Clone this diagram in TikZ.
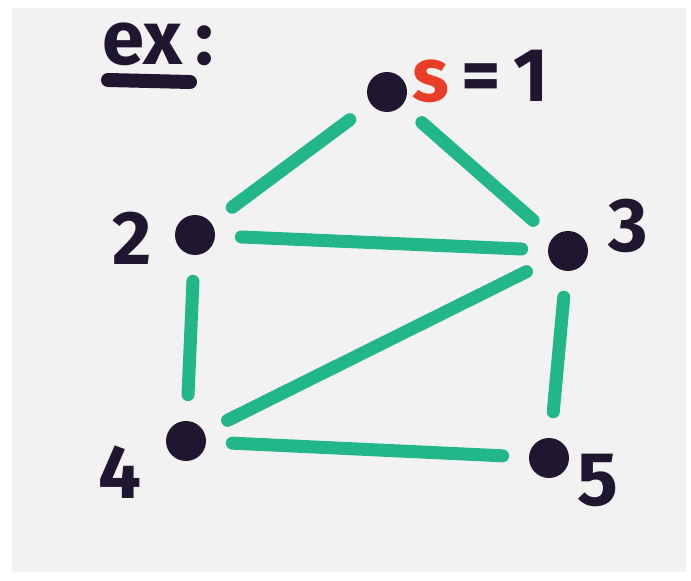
\documentclass[tikz,border=0pt]{standalone}
\usepackage{fontspec}
\setmainfont{Fira Sans}
\usetikzlibrary{calc}
\definecolor{BoardBg} {RGB}{242,242,242}
\definecolor{InkDark} {RGB}{32,22,48}
\definecolor{InkEdge} {RGB}{34,182,138}
\definecolor{InkRed}  {RGB}{232,62,40}
\tikzset{
  nd_vert/.style={circle,fill=InkDark,minimum size=20pt,inner sep=0pt},
  nd_lbl/.style={text=InkDark,font=\fontsize{38}{38}\selectfont\bfseries,inner sep=0pt},
  edg/.style={draw=InkEdge,line width=6.5pt,line cap=round,shorten <=13pt,shorten >=13pt},
}
\begin{document}
\begin{tikzpicture}[x=0.5pt,y=-0.5pt]
\useasboundingbox (0,0) rectangle (691,581);
\fill[white] (0,0) rectangle (691,581);
\fill[BoardBg] (12,8) rectangle (686,572);
% title
\node[nd_lbl] at (158,44)(T){ex\,:};
\draw[InkDark,line width=7pt,line cap=round] (108,80) -- (190,82);
% vertices
\node[nd_vert] at (387,92)(V1){};
\node[nd_vert] at (195,235)(V2){};
\node[nd_vert] at (568,251)(V3){};
\node[nd_vert] at (186,441)(V4){};
\node[nd_vert] at (549,458)(V5){};
% labels
\node[nd_lbl,anchor=west] at (412,76)(L1){\textcolor{InkRed}{s}\,=\,1};
\node[nd_lbl] at (132,238)(L2){2};
\node[nd_lbl] at (628,226)(L3){3};
\node[nd_lbl] at (120,472)(L4){4};
\node[nd_lbl] at (598,480)(L5){5};
% edges
\foreach \a/\b in {V1/V2,V1/V3,V2/V3,V2/V4,V3/V4,V3/V5,V4/V5}{\draw[edg](\a)--(\b);}
\end{tikzpicture}
\end{document}
